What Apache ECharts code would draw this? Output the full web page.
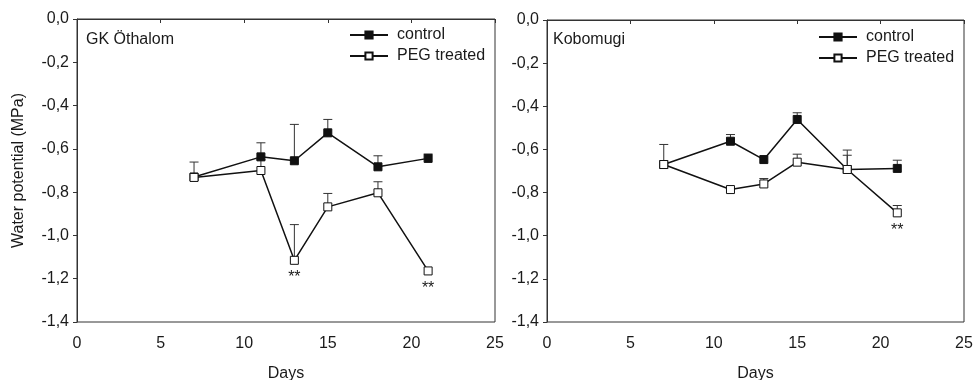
<!DOCTYPE html>
<html><head><meta charset="utf-8">
<script src="https://cdn.jsdelivr.net/npm/echarts@6/dist/echarts.min.js"></script>
<style>html,body{margin:0;padding:0;background:#fff}#c{width:973px;height:380px}</style>
</head><body><div id="c"></div>
<script>
// ---- data ----
const days = [7, 11, 13, 15, 18, 21];
const panelTitles = ['GK Öthalom', 'Kobomugi'];
const seriesNames = ['control', 'PEG treated'];
// GK Öthalom
const othControl = [-0.73, -0.637, -0.655, -0.526, -0.683, -0.644];
const othControlErr = [null, -0.572, -0.487, -0.464, -0.632, -0.624];
const othPeg = [-0.732, -0.700, -1.115, -0.868, -0.803, -1.164];
const othPegErr = [-0.661, -0.65, -0.950, -0.806, -0.752, null];
const othSig = ['', '', '**', '', '', '**'];
// Kobomugi
const koboControl = [-0.67, -0.562, -0.647, -0.461, -0.693, -0.688];
const koboControlErr = [null, -0.531, null, -0.430, -0.627, -0.650];
const koboPeg = [-0.670, -0.786, -0.760, -0.659, -0.693, -0.894];
const koboPegErr = [-0.577, null, -0.735, -0.622, -0.603, -0.860];
const koboSig = ['', '', '', '', '', '**'];
const xTicks = [0, 5, 10, 15, 20, 25];
const yTicks = [0, -0.2, -0.4, -0.6, -0.8, -1.0, -1.2, -1.4];

const FONT = 'Liberation Sans, Arial, sans-serif';
const FS = 16;
const TXT = '#1a1a1a';
const chart = echarts.init(document.getElementById('c'));

const grids = [
  {left: 77, right: 478, top: 19, bottom: 58},
  {left: 547, right: 9, top: 20, bottom: 58}
];

function xAxis(i) {
  return {
    type: 'value', gridIndex: i, min: 0, max: 25, interval: 5,
    name: 'Days', nameLocation: 'middle', nameGap: 44,
    nameTextStyle: {fontFamily: FONT, fontSize: FS, color: TXT},
    axisLine: {show: true, lineStyle: {color: '#333', width: 1}},
    axisTick: {show: true, length: 4, lineStyle: {color: '#333'}},
    axisLabel: {fontFamily: FONT, fontSize: FS, color: TXT, margin: 14},
    splitLine: {show: false}
  };
}
function yAxis(i) {
  return {
    type: 'value', gridIndex: i, min: -1.4, max: 0, interval: 0.2,
    name: i === 0 ? 'Water potential (MPa)' : '', nameLocation: 'middle', nameGap: 50,
    nameTextStyle: {fontFamily: FONT, fontSize: FS, color: TXT},
    axisLine: {show: true, lineStyle: {color: '#333', width: 1}},
    axisTick: {show: true, length: 4, lineStyle: {color: '#333'}},
    axisLabel: {fontFamily: FONT, fontSize: FS, color: TXT, margin: 8,
      formatter: v => (Math.abs(v) < 1e-9 ? 0 : v).toFixed(1).replace('.', ',')},
    splitLine: {show: false}
  };
}

function errSeries(i, vals, errs) {
  const data = [];
  days.forEach((d, k) => { if (errs[k] !== null) data.push([d, vals[k], errs[k]]); });
  return {
    type: 'custom', xAxisIndex: i, yAxisIndex: i, z: 1, silent: true,
    data: data,
    renderItem: (params, api) => {
      const p0 = api.coord([api.value(0), api.value(1)]);
      const p1 = api.coord([api.value(0), api.value(2)]);
      const st = {stroke: '#333', lineWidth: 1};
      return {type: 'group', children: [
        {type: 'line', shape: {x1: p0[0], y1: p0[1], x2: p1[0], y2: p1[1]}, style: st},
        {type: 'line', shape: {x1: p1[0] - 4.5, y1: p1[1], x2: p1[0] + 4.5, y2: p1[1]}, style: st}
      ]};
    }
  };
}
function lineSeries(i, name, vals, filled, sig) {
  return {
    type: 'line', name: name, xAxisIndex: i, yAxisIndex: i, z: filled ? 3 : 4,
    data: days.map((d, k) => {
      const item = {value: [d, vals[k]]};
      if (sig && sig[k]) item.label = {show: true, formatter: sig[k], position: 'bottom', distance: 5,
        fontFamily: FONT, fontSize: FS, color: TXT};
      return item;
    }),
    symbol: 'rect', symbolSize: 8, showSymbol: true,
    lineStyle: {color: '#111', width: 1.5},
    itemStyle: {color: filled ? '#111' : '#fff', borderColor: '#111', borderWidth: 1},
    label: {show: false},
    emphasis: {disabled: true},
    animation: false
  };
}

const legendCommon = {
  orient: 'vertical', itemWidth: 38, itemHeight: 9, itemGap: 5, padding: 0,
  textStyle: {fontFamily: FONT, fontSize: FS, color: TXT, padding: [0, 0, 0, 4]},
  data: seriesNames, selectedMode: false
};

chart.setOption({
  animation: false,
  grid: grids.map(g => Object.assign({show: true, borderColor: '#333', borderWidth: 1,
    backgroundColor: 'transparent', containLabel: false, outerBoundsMode: 'none'}, g)),
  xAxis: [xAxis(0), xAxis(1)],
  yAxis: [yAxis(0), yAxis(1)],
  title: [
    {text: panelTitles[0], left: 81, top: 27, textStyle: {fontFamily: FONT, fontSize: FS, fontWeight: 'normal', color: TXT}},
    {text: panelTitles[1], left: 548, top: 27, textStyle: {fontFamily: FONT, fontSize: FS, fontWeight: 'normal', color: TXT}}
  ],
  legend: [
    Object.assign({left: 349, top: 27}, legendCommon),
    Object.assign({left: 818, top: 29}, legendCommon)
  ],
  series: [
    errSeries(0, othControl, othControlErr),
    errSeries(0, othPeg, othPegErr),
    lineSeries(0, seriesNames[0], othControl, true),
    lineSeries(0, seriesNames[1], othPeg, false, othSig),
    errSeries(1, koboControl, koboControlErr),
    errSeries(1, koboPeg, koboPegErr),
    lineSeries(1, seriesNames[0], koboControl, true),
    lineSeries(1, seriesNames[1], koboPeg, false, koboSig)
  ]
});
</script></body></html>
